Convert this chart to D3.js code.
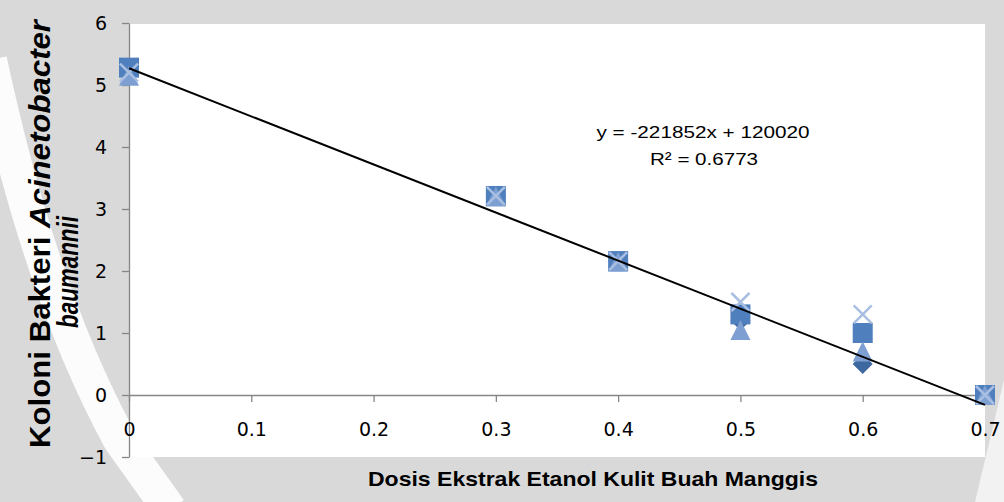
<!DOCTYPE html>
<html>
<head>
<meta charset="utf-8">
<script src="https://cdn.jsdelivr.net/npm/d3@7"></script>
<style>
  html, body { margin: 0; padding: 0; background: #d9d9d9; }
  svg { display: block; }
</style>
</head>
<body>
<div id="chart"></div>
<script>
// dose levels (x) and colony counts per replicate series
const doses = [0, 0.3, 0.4, 0.5, 0.6, 0.7];
const series1 = [5.25, 3.21, 2.16, 1.2, 0.5, 0];   // diamond
const series2 = [5.28, 3.21, 2.16, 1.3, 1.0, 0];   // square
const series3 = [5.15, 3.2, 2.15, 1.05, 0.7, 0];   // triangle
const series4 = [5.2, 3.21, 2.16, 1.5, 1.3, 0];    // x
const xTicks = [0, 0.1, 0.2, 0.3, 0.4, 0.5, 0.6, 0.7];
const yTicks = [-1, 0, 1, 2, 3, 4, 5, 6];
const trendX = [0, 0.7];
const trendY = [5.27, -0.16];
const equationLines = ['y = -221852x + 120020', 'R\u00b2 = 0.6773'];

const width = 1004, height = 502;
const plot = { left: 129, right: 985, top: 23, bottom: 457 };

const svg = d3.select('#chart').append('svg')
  .attr('width', width)
  .attr('height', height);

// background watermark-ish shapes
svg.append('rect').attr('width', width).attr('height', height).attr('fill', '#d9d9d9');
svg.append('path')
  .attr('d', 'M-10,60 C20,200 60,330 120,440 L170,510')
  .attr('fill', 'none').attr('stroke', '#ffffff').attr('stroke-width', 34).attr('opacity', 0.9);
svg.append('path')
  .attr('d', 'M1004,380 L975,502 L1004,502 Z')
  .attr('fill', '#f2f2f2');

// plot area
svg.append('rect')
  .attr('x', plot.left).attr('y', plot.top + 1)
  .attr('width', plot.right - plot.left).attr('height', plot.bottom - plot.top - 1)
  .attr('fill', '#ffffff');

const x = d3.scaleLinear().domain([0, 0.7]).range([plot.left, plot.right]);
const y = d3.scaleLinear().domain([-1, 6]).range([plot.bottom, plot.top]);

const axisColor = '#868686';

const yAxis = svg.append('g')
  .attr('transform', `translate(${plot.left},0)`)
  .call(d3.axisLeft(y).tickValues(yTicks).tickFormat(d3.format('d'))
    .tickSize(7).tickSizeOuter(0).tickPadding(15));

const xAxis = svg.append('g')
  .attr('transform', `translate(0,${y(0)})`)
  .call(d3.axisBottom(x).tickValues(xTicks).tickFormat(d => d === 0 ? '0' : d3.format('.1f')(d))
    .tickSize(7).tickSizeOuter(0).tickPadding(21));

[xAxis, yAxis].forEach(g => {
  g.select('.domain').attr('stroke', axisColor).attr('stroke-width', 1.3);
  g.selectAll('.tick line').attr('stroke', axisColor).attr('stroke-width', 1.3);
  g.selectAll('.tick text')
    .attr('fill', '#000')
    .style('font-family', '"DejaVu Sans", sans-serif')
    .style('font-size', '19px');
});

// markers
const seriesDefs = [
  { values: series1, shape: 'diamond', color: '#3d68a0' },
  { values: series2, shape: 'square', color: '#4f7fbd' },
  { values: series3, shape: 'triangle', color: '#7d9fd2' },
  { values: series4, shape: 'x', color: '#a9bfe2' }
];

const markers = svg.append('g');
seriesDefs.forEach(s => {
  const pts = doses.map((d, i) => ({ x: d, y: s.values[i] }));
  const g = markers.append('g');
  if (s.shape === 'diamond') {
    g.selectAll('path').data(pts).join('path')
      .attr('transform', d => `translate(${x(d.x)},${y(d.y)})`)
      .attr('d', 'M0,-10 L10,0 L0,10 L-10,0 Z')
      .attr('fill', s.color);
  } else if (s.shape === 'square') {
    g.selectAll('rect').data(pts).join('rect')
      .attr('x', d => x(d.x) - 10).attr('y', d => y(d.y) - 10)
      .attr('width', 20).attr('height', 20)
      .attr('fill', s.color);
  } else if (s.shape === 'triangle') {
    g.selectAll('path').data(pts).join('path')
      .attr('transform', d => `translate(${x(d.x)},${y(d.y)})`)
      .attr('d', 'M0,-10 L10,10 L-10,10 Z')
      .attr('fill', s.color);
  } else {
    g.selectAll('path').data(pts).join('path')
      .attr('transform', d => `translate(${x(d.x)},${y(d.y)})`)
      .attr('d', 'M-9,-9 L9,9 M9,-9 L-9,9')
      .attr('fill', 'none')
      .attr('stroke', s.color)
      .attr('stroke-width', 2.5);
  }
});

// linear trendline
svg.append('line')
  .attr('x1', x(trendX[0])).attr('y1', y(trendY[0]))
  .attr('x2', x(trendX[1])).attr('y2', y(trendY[1]))
  .attr('stroke', '#000').attr('stroke-width', 2);

// trendline equation
svg.append('text')
  .attr('x', 703).attr('y', 138)
  .attr('text-anchor', 'middle')
  .attr('textLength', 213).attr('lengthAdjust', 'spacingAndGlyphs')
  .style('font-family', '"Liberation Sans", Arial, sans-serif')
  .style('font-size', '17px')
  .text(equationLines[0]);
svg.append('text')
  .attr('x', 704).attr('y', 165)
  .attr('text-anchor', 'middle')
  .attr('textLength', 108).attr('lengthAdjust', 'spacingAndGlyphs')
  .style('font-family', '"Liberation Sans", Arial, sans-serif')
  .style('font-size', '17px')
  .text(equationLines[1]);

// axis titles
svg.append('text')
  .attr('x', 593).attr('y', 486)
  .attr('text-anchor', 'middle')
  .attr('textLength', 450).attr('lengthAdjust', 'spacingAndGlyphs')
  .style('font-family', '"Liberation Sans", Arial, sans-serif')
  .style('font-size', '21px')
  .style('font-weight', 'bold')
  .text('Dosis Ekstrak Etanol Kulit Buah Manggis');

const yTitle = svg.append('g')
  .style('font-family', '"Liberation Sans", Arial, sans-serif')
  .style('font-size', '30px')
  .style('font-weight', 'bold');

const line1 = yTitle.append('text')
  .attr('transform', 'translate(50,234) rotate(-90)')
  .attr('text-anchor', 'middle')
  .attr('textLength', 428).attr('lengthAdjust', 'spacingAndGlyphs');
line1.append('tspan').text('Koloni Bakteri ');
line1.append('tspan').style('font-style', 'italic').text('Acinetobacter');

yTitle.append('text')
  .attr('transform', 'translate(78,272) rotate(-90)')
  .attr('text-anchor', 'middle')
  .attr('textLength', 112).attr('lengthAdjust', 'spacingAndGlyphs')
  .style('font-style', 'italic')
  .text('baumannii');
</script>
</body>
</html>
